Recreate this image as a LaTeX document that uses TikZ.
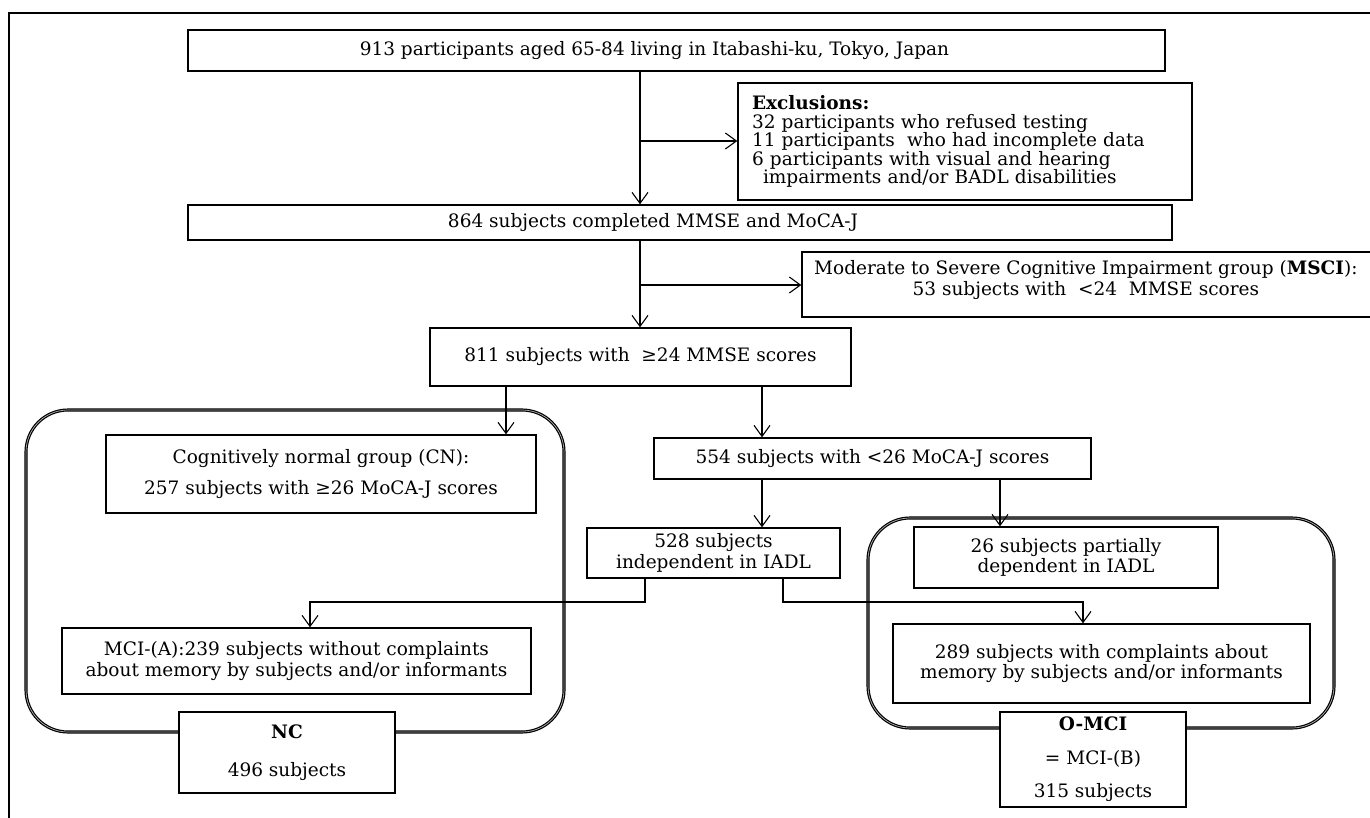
\documentclass[tikz,border=0pt]{standalone}
\usepackage{fontspec}
\setmainfont{DejaVu Serif}
\usetikzlibrary{arrows.meta}
\begin{document}
\begin{tikzpicture}[x=1pt,y=-1pt,
  box/.style={draw, line width=1.4pt, fill=white, inner sep=0pt, align=center,
    font=\fontsize{18.5}{20.5}\selectfont},
  txt/.style={inner sep=0pt, align=center, font=\fontsize{18.5}{21}\selectfont},
  grp/.style={draw, double=gray!60, double distance=0.7pt, line width=1.2pt, rounded corners=42pt},
  arr/.style={line width=1.1pt, -{Straight Barb[length=11pt,width=16pt,line width=1.1pt]}},
  frm/.style={line width=1.2pt}]
\useasboundingbox (0,0) rectangle (1370,818);
% outer frame
\draw[frm] (1372,13) -- (9,13) -- (9,820);

% groups
\draw[grp] (26,410) rectangle (564,732);
\draw[grp] (868,518) rectangle (1334,728);

% boxes
\node[box, minimum width=977pt, minimum height=41pt] (A) at (676.5,50.5)
  {913 participants aged 65-84 living in Itabashi-ku, Tokyo, Japan\hspace*{44pt}};
\node[box, minimum width=454pt, minimum height=117pt, text width=426pt, align=left,
  font=\fontsize{18.5}{18.5}\selectfont] (E) at (965,141.5)
  {\textbf{Exclusions:}\\
   32 participants who refused testing\\
   11 participants\ \ who had incomplete data\\
   6 participants with visual and hearing\\
   \hspace*{11pt}impairments and/or BADL disabilities\\[6pt]};
\node[box, minimum width=984pt, minimum height=35pt] (B) at (680,222.5)
  {864 subjects completed MMSE and MoCA-J\hspace*{54pt}};
\node[box, minimum width=600pt, minimum height=65pt] (M) at (1102,284.5) {};
\node[txt, anchor=west] (Mt) at (814,280)
  {Moderate to Severe Cognitive Impairment group (\textbf{MSCI}):\\
   53 subjects with\ \ <24\ \ MMSE scores};
\node[box, minimum width=421pt, minimum height=58pt] (C) at (640.5,357)
  {811 subjects with\ \ ≥24 MMSE scores};
\node[box, minimum width=430pt, minimum height=78pt] (CN) at (321,474)
  {Cognitively normal group (CN):\\[10pt]257 subjects with ≥26 MoCA-J scores};
\node[box, minimum width=437pt, minimum height=41pt] (F) at (872.5,458.5)
  {554 subjects with <26 MoCA-J scores};
\node[box, minimum width=253pt, minimum height=50pt] (H) at (713.5,553)
  {528 subjects\\independent in IADL};
\node[box, minimum width=304pt, minimum height=61pt] (I) at (1066,557.5)
  {26 subjects partially\\dependent in IADL};
\node[box, minimum width=417pt, minimum height=79pt] (J) at (1101.5,663.5)
  {289 subjects with complaints about\\memory by subjects and/or informants};
\node[box, minimum width=469pt, minimum height=66pt] (K) at (296.5,661)
  {MCI-(A):239 subjects without complaints\\about memory by subjects and/or informants};
\node[box, minimum width=216pt, minimum height=81pt] (NC) at (287,752.5)
  {\textbf{NC}\\[17pt]496 subjects};
\node[box, minimum width=186pt, minimum height=95pt] (OM) at (1093,759.5)
  {\textbf{O-MCI}\\[13pt]= MCI-(B)\\[13pt]315 subjects};

% helper coordinates
\coordinate (s1) at (640,141);
\coordinate (s2) at (640,285);
\coordinate (x506) at (506,0);
\coordinate (x762) at (762,0);
\coordinate (x1000) at (1000,0);
\coordinate (hl) at (645,602);
\coordinate (hr) at (783,602);
\coordinate (kl) at (310,602);
\coordinate (jr) at (1083,602);

% connectors
\draw[arr] (A.south -| s1) -- (B.north -| s1);
\draw[arr] (s1) -- (s1 -| E.west);
\draw[arr] (B.south -| s2) -- (C.north -| s2);
\draw[arr] (s2) -- (s2 -| M.west);
\draw[arr] (C.south -| x506) -- (CN.north -| x506);
\draw[arr] (C.south -| x762) -- (F.north -| x762);
\draw[arr] (F.south -| x762) -- (H.north -| x762);
\draw[arr] (F.south -| x1000) -- (I.north -| x1000);
\draw[arr] (H.south -| hl) -- (hl) -- (kl) -- (K.north -| kl);
\draw[arr] (H.south -| hr) -- (hr) -- (jr) -- (J.north -| jr);
\end{tikzpicture}
\end{document}
